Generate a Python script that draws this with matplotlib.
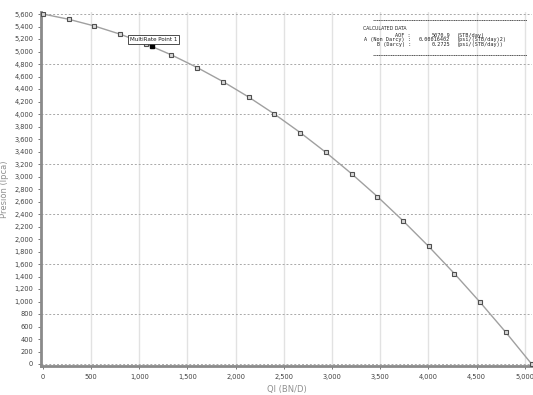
import matplotlib.pyplot as plt
from matplotlib.ticker import MultipleLocator, FuncFormatter

# IPR curve points (caudal, presion)
ql = [0, 267, 534, 801, 1067, 1334, 1601, 1868, 2135, 2402,
      2669, 2936, 3203, 3470, 3737, 4003, 4270, 4537, 4804, 5071]
pwf = [5600, 5516, 5408, 5277, 5122, 4945, 4743, 4519, 4271, 3999,
       3704, 3386, 3044, 2680, 2291, 1881, 1446, 987, 506, 0]

# punto de prueba multitasa
mr_q = [1131]
mr_p = [5088]
mr_label = 'MultiRate Point 1'

# datos calculados
calc_title = 'CALCULATED DATA'
calc_names = ['AOF :', 'A (Non Darcy) :', 'B (Darcy) :']
calc_vals = ['5070.9', '0.00016402', '0.2725']
calc_units = ['(STB/day)', '(psi/(STB/day)2)', '(psi/(STB/day))']

fig = plt.figure(figsize=(5.33, 3.95), dpi=100)
ax = fig.add_axes([41/533, 1 - 366/395, 491/533, 354/395])

ax.plot(ql, pwf, color='#a0a0a0', lw=1.0, zorder=3)
ax.plot(ql, pwf, ls='none', marker='s', ms=3.2, mfc='#d8d8d8', mec='#505050',
        mew=0.8, zorder=4)
ax.plot(mr_q, mr_p, ls='none', marker='s', ms=3.5, color='black', zorder=5)
ax.annotate(mr_label, (mr_q[0], mr_p[0]), xytext=(-16, 3.5), textcoords='offset points',
            fontsize=4.1, color='#202020', zorder=6,
            bbox=dict(boxstyle='square,pad=0.3', fc='white', ec='#303030', lw=0.6))

ax.set_xlim(-20, 5075)
ax.set_ylim(-32, 5632)

ax.xaxis.set_major_locator(MultipleLocator(500))
ax.yaxis.set_major_locator(MultipleLocator(200))
fmt = FuncFormatter(lambda v, p: f'{int(round(v)):,}')
ax.xaxis.set_major_formatter(fmt)
ax.yaxis.set_major_formatter(fmt)
ax.tick_params(labelsize=4.8, colors='#404040', length=2, width=0.5)

# rejilla: vertical continua, horizontal punteada cada 800
for xv in range(500, 5001, 500):
    ax.axvline(xv, color='#e2e2e2', lw=1.0, zorder=1)
for yv in range(0, 5601, 800):
    ax.axhline(yv, color='#a8a8a8', lw=0.7, ls=(0, (2, 2)), zorder=1)

for s in ['top', 'right']:
    ax.spines[s].set_visible(False)
for s in ['left', 'bottom']:
    ax.spines[s].set_color('#8a8a8a')
    ax.spines[s].set_linewidth(2)

ax.set_xlabel('Ql (BN/D)', fontsize=6, color='#909090', labelpad=4)
ax.set_ylabel('Presión (lpca)', fontsize=6, color='#909090', labelpad=4)

# bloque de resultados
for yl in [0.977, 0.878]:
    ax.plot([0.676, 0.99], [yl, yl], transform=ax.transAxes, color='#404040',
            lw=0.6, ls=(0, (1.5, 0.6)))
tkw = dict(transform=ax.transAxes, color='#202020', va='center')
ax.text(0.655, 0.952, calc_title, ha='left', fontsize=3.3, **tkw)
mono = dict(fontsize=3.7, family='DejaVu Sans Mono', **tkw)
for i in range(3):
    yy = 0.935 - i * 0.0135
    ax.text(0.7536, yy, calc_names[i], ha='right', **mono)
    ax.text(0.833, yy, calc_vals[i], ha='right', **mono)
    ax.text(0.847, yy, calc_units[i], ha='left', **mono)

fig.savefig('out.png', dpi=100)
